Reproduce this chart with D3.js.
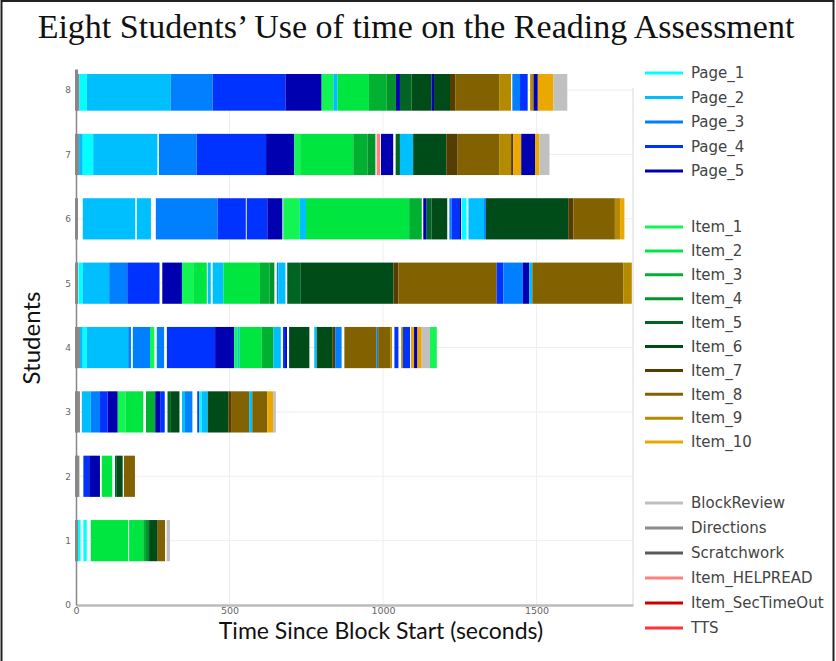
<!DOCTYPE html>
<html><head><meta charset="utf-8">
<script src="https://cdn.jsdelivr.net/npm/d3@7"></script>
<style>body{margin:0;background:#fff}svg{display:block}</style>
</head><body>
<svg id="chart" width="836" height="661"></svg>
<script>
const categories = ["Page_1","Page_2","Page_3","Page_4","Page_5",
  "Item_1","Item_2","Item_3","Item_4","Item_5","Item_6","Item_7","Item_8","Item_9","Item_10",
  "BlockReview","Directions","Scratchwork","Item_HELPREAD","Item_SecTimeOut","TTS"];
const categoryColors = ["#00FFFF","#00BFFF","#0080FF","#0033FF","#0000B0",
  "#12F552","#00E640","#00B030","#00942A","#006422","#004C18","#553C00","#826200","#B38A00","#EBA800",
  "#C0C0C0","#8C8C8C","#5A5A5A","#FF8080","#D00000","#FF3333"];
const legendGroups = [0,0,0,0,0, 1,1,1,1,1,1,1,1,1,1, 2,2,2,2,2,2];
const xTicks = [0,500,1000,1500];
const yTicks = [0,1,2,3,4,5,6,7,8];

// [category, start (s), end (s)]
const student1 = [["Page_1",0,15],["Page_1",24,35],["Item_2",48,170],["Item_2",173,219],["Item_3",219,228],
  ["Item_4",228,235],["Item_5",235,241],["Item_6",241,265],["Item_7",265,267],["Item_8",267,290],["BlockReview",295,306]];
const student2 = [["Directions",0,11],["Page_4",24,43],["Page_5",43,78],["Item_2",84,118],["Item_5",127,133],
  ["Item_6",133,152],["Item_8",156,192]];
const student3 = [["Directions",0,13],["Page_2",19,48],["Page_3",48,78],["Page_4",78,103],["Page_5",103,136],
  ["Item_1",136,162],["Item_2",162,219],["Item_3",228,258],["Page_5",258,274],["Page_4",274,289],["Item_5",298,309],
  ["Item_6",309,337],["Page_2",345,355],["Page_3",355,379],["Page_4",395,401],["Page_1",401,409],["Page_2",409,429],
  ["Item_6",429,496],["Item_7",496,505],["Item_8",505,564],["Page_2",564,574],["Item_8",574,623],["Item_10",623,642],
  ["BlockReview",642,651]];
const student4 = [["Directions",0,13],["Page_2",13,22],["Page_1",22,35],["Page_2",35,170],["Page_3",170,179],
  ["Page_3",185,241],["Item_1",241,255],["Page_3",263,287],["Page_4",296,453],["Page_5",453,515],["Item_1",515,526],
  ["Page_2",526,532],["Item_2",532,605],["Item_3",605,643],["Page_2",643,667],["Page_4",674,681],["Page_5",681,687],
  ["Item_6",694,760],["Page_2",776,784],["Item_6",784,836],["Item_7",836,844],["Page_3",844,865],["Item_8",874,979],
  ["Page_3",979,984],["Item_8",984,1023],["Item_9",1023,1029],["Page_4",1037,1050],["Item_9",1059,1065],
  ["Page_4",1065,1088],["Item_10",1091,1101],["Page_5",1101,1112],["Item_10",1112,1126],["BlockReview",1126,1153],
  ["Item_1",1153,1175]];
const student5 = [["Directions",0,5],["Page_1",8,22],["Page_2",22,108],["Page_3",108,167],["Page_4",167,272],
  ["Page_5",281,345],["Item_1",345,384],["Item_2",384,426],["Page_2",429,439],["Page_2",445,480],["Item_2",480,599],
  ["Item_3",599,630],["Item_4",630,646],["Page_3",654,659],["Page_2",659,682],["Item_5",688,732],["Item_6",732,1034],
  ["Item_7",1034,1050],["Item_8",1050,1370],["Page_4",1370,1392],["Page_3",1392,1455],["Page_5",1455,1476],
  ["Page_2",1476,1486],["Item_8",1486,1783],["Item_9",1783,1810]];
const student6 = [["Directions",0,5],["Page_2",22,193],["Page_2",198,244],["Page_3",260,461],["Page_4",461,553],
  ["Page_4",556,623],["Page_5",623,672],["Item_1",675,729],["Page_2",729,749],["Item_2",749,1085],["Item_3",1085,1126],
  ["Page_5",1131,1142],["Item_5",1142,1158],["Item_6",1158,1209],["Page_3",1216,1223],["Page_4",1223,1248],
  ["Page_5",1248,1254],["Page_1",1256,1272],["Page_2",1278,1329],["Page_3",1329,1335],["Item_6",1335,1603],
  ["Item_7",1603,1620],["Item_8",1620,1755],["Item_9",1755,1772],["Item_10",1772,1786]];
const student7 = [["Directions",0,10],["Page_2",10,22],["Page_1",22,56],["Page_2",56,265],["Page_3",270,393],
  ["Page_4",393,619],["Page_5",619,711],["Item_1",711,730],["Item_2",730,903],["Item_3",903,949],["Item_4",949,975],
  ["Item_HELPREAD",979,990],["Page_5",993,1033],["Item_5",1041,1055],["Page_2",1055,1098],["Item_6",1098,1206],
  ["Item_7",1206,1243],["Item_8",1243,1378],["Item_9",1378,1417],["Item_7",1417,1424],["Item_10",1424,1450],
  ["Page_5",1450,1495],["Item_10",1495,1509],["BlockReview",1509,1542]];
const student8 = [["Directions",0,11],["Page_1",11,35],["Page_2",35,308],["Page_3",308,445],["Page_4",445,682],
  ["Page_5",682,800],["Item_1",800,838],["Page_2",838,852],["Item_2",852,954],["Item_3",954,1012],["Item_4",1012,1042],
  ["Page_5",1042,1055],["Item_5",1055,1093],["Item_6",1093,1158],["Page_5",1158,1166],["Item_6",1166,1218],
  ["Item_7",1218,1235],["Item_8",1235,1378],["Item_9",1378,1417],["Page_3",1421,1446],["Page_4",1446,1471],
  ["Item_9",1479,1490],["Page_5",1490,1504],["Item_10",1504,1555],["BlockReview",1555,1600]];
const students = [student1,student2,student3,student4,student5,student6,student7,student8];

const svg = d3.select("#chart");
const W = 836, H = 661;
const plot = {left:76, right:633, top:74, bottom:605};

// frame
svg.append("rect").attr("x",1.5).attr("y",1).attr("width",W-4).attr("height",H+10)
  .attr("fill","none").attr("stroke","#222").attr("stroke-width",2);

const x = d3.scaleLinear().domain([0,1814]).range([plot.left,plot.right]);
const y = d3.scaleLinear().domain([0,8.25]).range([plot.bottom,plot.top]);
const color = d3.scaleOrdinal().domain(categories).range(categoryColors);

// gridlines
svg.append("g").selectAll("line").data(yTicks.slice(1)).join("line")
  .attr("x1",plot.left).attr("x2",plot.right).attr("y1",d=>y(d)).attr("y2",d=>y(d))
  .attr("stroke","#eeeeee").attr("stroke-width",1);
svg.append("g").selectAll("line").data(xTicks.slice(1)).join("line")
  .attr("x1",d=>x(d)).attr("x2",d=>x(d)).attr("y1",plot.top).attr("y2",plot.bottom)
  .attr("stroke","#eeeeee").attr("stroke-width",1);
svg.append("line").attr("x1",plot.right).attr("x2",plot.right).attr("y1",88).attr("y2",plot.bottom)
  .attr("stroke","#e6e6e6").attr("stroke-width",1.5);

// bars
svg.append("defs").append("clipPath").attr("id","pc").append("rect")
  .attr("x",plot.left).attr("y",plot.top).attr("width",plot.right-plot.left+2).attr("height",plot.bottom-plot.top);
const half = 0.32;
const barsG = svg.append("g").attr("clip-path","url(#pc)");
students.forEach((evts,i)=>{
  const sid = i+1;
  barsG.append("g").selectAll("rect").data(evts).join("rect")
    .attr("x",d=>x(d[1])).attr("width",d=>Math.max(0.5,x(d[2])-x(d[1])))
    .attr("y",y(sid+half)).attr("height",y(sid-half)-y(sid+half))
    .attr("fill",d=>color(d[0]));
});

// axes
const xAxis = svg.append("g").attr("transform",`translate(0,${plot.bottom})`)
  .call(d3.axisBottom(x).tickValues(xTicks).tickFormat(d3.format("d")).tickSize(0).tickPadding(2));
xAxis.select(".domain").attr("stroke","#bbbbbb").attr("stroke-width",2.5);
xAxis.selectAll("text").attr("font-family","DejaVu Sans, Verdana, sans-serif").attr("font-size",9.5).attr("fill","#666");
const yAxis = svg.append("g").attr("transform",`translate(${plot.left},0)`)
  .call(d3.axisLeft(y).tickValues(yTicks).tickFormat(d3.format("d")).tickSize(0).tickPadding(5));
yAxis.select(".domain").attr("stroke","#888888").attr("stroke-width",1.5);
yAxis.selectAll("text").attr("font-family","DejaVu Sans, Verdana, sans-serif").attr("font-size",9).attr("fill","#666");
svg.append("g").selectAll("rect").data(yTicks.slice(1)).join("rect")
  .attr("x",plot.left-1).attr("width",3).attr("y",d=>y(d+half)).attr("height",d=>y(d-half)-y(d+half))
  .attr("fill","#888");

// titles
svg.append("text").attr("x",416).attr("y",38).attr("text-anchor","middle")
  .attr("font-family","Liberation Serif, Times New Roman, serif").attr("font-size",34).attr("fill","#111")
  .text("Eight Students’ Use of time on the Reading Assessment");
svg.append("text").attr("transform",`translate(40,${338}) rotate(-90)`)
  .attr("text-anchor","middle").attr("font-family","Lato, Open Sans, sans-serif").attr("font-size",24).attr("fill","#111")
  .text("Students");
svg.append("text").attr("x",381).attr("y",639).attr("text-anchor","middle")
  .attr("font-family","Lato, Open Sans, sans-serif").attr("font-size",23).attr("fill","#111")
  .text("Time Since Block Start (seconds)");

// legend
const groupStart = [73, 227, 503];
const groupStep = [24.5, 23.9, 25];
const legendY = categories.map((c,i)=>{
  const g = legendGroups[i];
  const first = legendGroups.indexOf(g);
  return groupStart[g] + (i-first)*groupStep[g];
});
const lg = svg.append("g").selectAll("g").data(categories).join("g")
  .attr("transform",(d,i)=>`translate(0,${legendY[i]})`);
lg.append("line").attr("x1",645).attr("x2",683).attr("y1",0).attr("y2",0)
  .attr("stroke",d=>color(d)).attr("stroke-width",3);
lg.append("text").attr("x",691).attr("y",0).attr("dy","0.35em")
  .attr("font-family","DejaVu Sans, Verdana, sans-serif").attr("font-size",15).attr("fill","#444")
  .text(d=>d);
</script>
</body></html>
